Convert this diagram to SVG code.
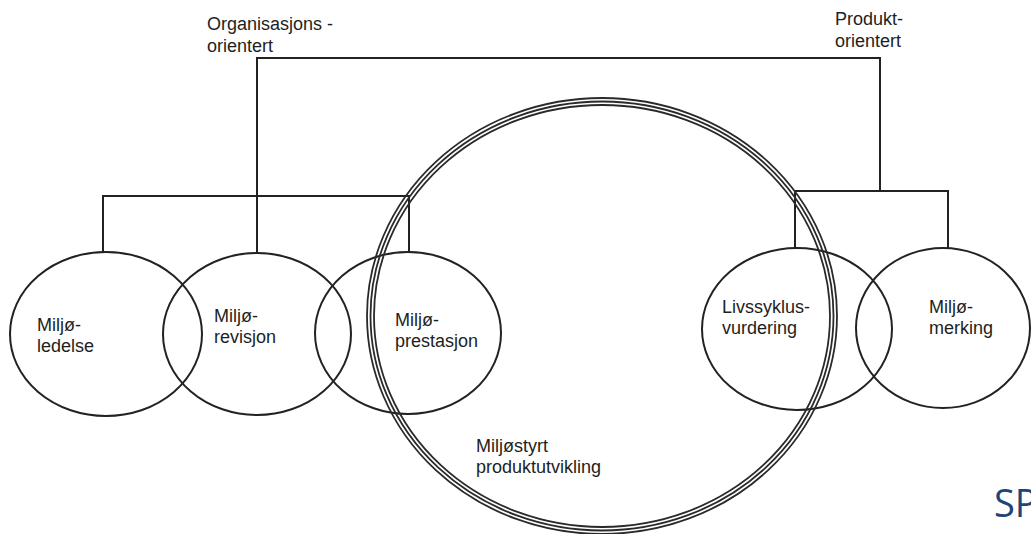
<svg xmlns="http://www.w3.org/2000/svg" width="1031" height="534" viewBox="0 0 1031 534">
<style>
.e{fill:none;stroke:#222;stroke-width:2}
.big{fill:none;stroke:#2a2a2a;stroke-width:1.8}
.c{fill:none;stroke:#222;stroke-width:2}
text{font-family:"Liberation Sans",Arial,sans-serif;font-size:18px;fill:#1e1e1e}
.sp{font-family:"Open Sans","Noto Sans",sans-serif;font-size:38px;fill:#1f4477}
</style>
<rect width="1031" height="534" fill="#fff"/>
<g id="connectors">
<polyline class="c" points="257,253 257,58 880,58 880,191"/>
<polyline class="c" points="103,252 103,196 409,196 409,252"/>
<polyline class="c" points="795,248 795,191 948,191 948,248"/>
</g>
<g id="n_ledelse">
<ellipse class="e" cx="106" cy="334" rx="96" ry="82"/>
<text x="37" y="331">Miljø-</text>
<text x="37" y="352">ledelse</text>
</g>
<g id="n_revisjon">
<ellipse class="e" cx="257" cy="334" rx="94" ry="81"/>
<text x="214" y="322">Miljø-</text>
<text x="214" y="343">revisjon</text>
</g>
<g id="n_prestasjon">
<ellipse class="e" cx="408" cy="333" rx="93" ry="81"/>
<text x="395" y="326">Miljø-</text>
<text x="395" y="347">prestasjon</text>
</g>
<g id="n_livssyklus">
<ellipse class="e" cx="797" cy="329" rx="95" ry="81"/>
<text x="722" y="313">Livssyklus-</text>
<text x="722" y="334">vurdering</text>
</g>
<g id="n_merking">
<ellipse class="e" cx="943" cy="328" rx="87" ry="80"/>
<text x="929" y="313">Miljø-</text>
<text x="929" y="334">merking</text>
</g>
<g id="n_produktutvikling">
<ellipse class="big" cx="602" cy="316" rx="235" ry="218" stroke-width="2.4"/>
<ellipse class="big" cx="602" cy="316" rx="231.5" ry="214.5"/>
<ellipse class="big" cx="602" cy="316" rx="228" ry="211"/>
<text x="476" y="452">Miljøstyrt</text>
<text x="476" y="473">produktutvikling</text>
</g>
<g id="n_org">
<text x="207" y="30">Organisasjons -</text>
<text x="207" y="52">orientert</text>
</g>
<g id="n_prod">
<text x="835" y="25">Produkt-</text>
<text x="835" y="47">orientert</text>
</g>
<text class="sp" x="994" y="517">SP</text>
</svg>
